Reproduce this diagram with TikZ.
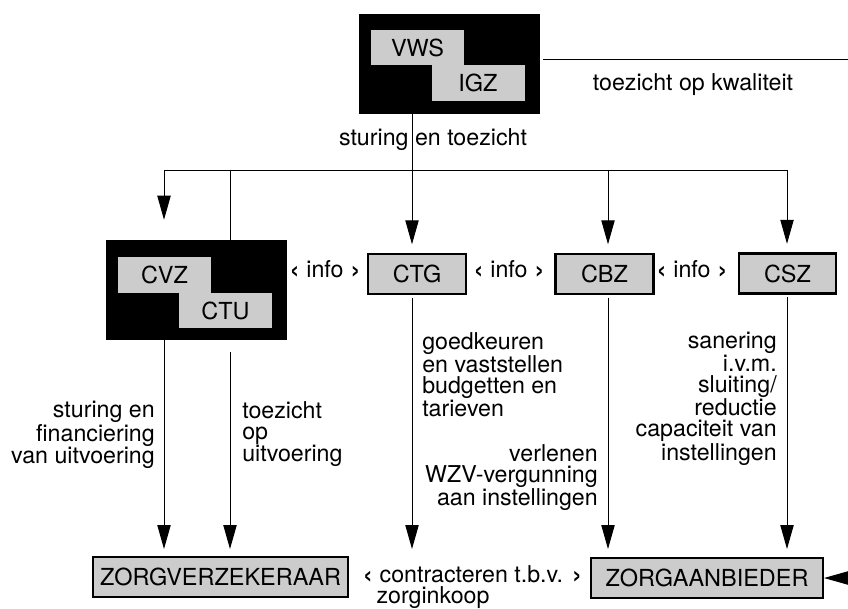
\documentclass[tikz,border=0pt]{standalone}
\usepackage{fontspec}
\usepackage{graphicx}
\setmainfont{TeX Gyre Heros}
\usetikzlibrary{arrows.meta}

\newcommand{\lgl}{\raisebox{-0.14em}{\scalebox{1.4}{‹}}}
\newcommand{\rgl}{\raisebox{-0.14em}{\scalebox{1.4}{›}}}

\tikzset{
  blok/.style={rectangle, fill=black, inner sep=0pt, minimum width=135.75pt, minimum height=75pt},
  naam/.style={rectangle, fill=black!20, inner sep=0pt, minimum width=69.75pt, minimum height=26.5pt, font=\fontsize{17.6}{18}\selectfont},
  orgaan/.style={rectangle, draw, line width=1.6pt, fill=black!20, inner sep=0pt, minimum height=30pt, font=\fontsize{17.6}{18}\selectfont},
  tekst/.style={inner sep=0pt, font=\fontsize{17.4}{15.75}\selectfont},
  lijn/.style={line width=0.75pt},
  pijl/.style={lijn, -{Triangle[length=18pt,width=10pt]}}
}

\begin{document}
\begin{tikzpicture}[x=0.75pt,y=-0.75pt]
		\useasboundingbox (0,0) rectangle (848,608);
		
		% ministerie
		\node[blok] (vws) at (449.5,64) {};
		\node[naam] (vwsnaam) at (417.5,47.5) {VWS};
		\node[naam] (igz) at (478,83) {IGZ};
		\coordinate (kwaliteit) at (848,59);
		\draw[lijn] (vws.east |- kwaliteit) ++(3,0) -- (kwaliteit);
		\node[tekst, anchor=base] (tkw) at (693,90) {toezicht op kwaliteit};
		
		% sturing en toezicht
		\coordinate (split) at (412,170);
		\coordinate (naarcvz) at (164,170);
		\coordinate (naarctu) at (230,170);
		\coordinate (naarcbz) at (608,170);
		\coordinate (naarcsz) at (787,170);
		\draw[lijn] (vws.south -| split) -- (split);
		\node[tekst, anchor=base] (sturing) at (433,145) {sturing en toezicht};
		\draw[lijn] (naarcvz) -- (naarcsz);
		
		% colleges
		\node[blok] (cvz) at (196.5,290) {};
		\node[naam] (cvznaam) at (164.5,275) {CVZ};
		\node[naam] (ctu) at (225.5,310.5) {CTU};
		\node[orgaan, minimum width=73.5pt] (ctg) at (417,274) {CTG};
		\node[orgaan, minimum width=73.5pt] (cbz) at (604.5,274) {CBZ};
		\node[orgaan, minimum width=73pt] (csz) at (787.5,273.5) {CSZ};
		\node[tekst, anchor=base] (info1) at (325,277) {\lgl{} info \rgl};
		\node[tekst, anchor=base] (info2) at (509,277) {\lgl{} info \rgl};
		\node[tekst, anchor=base] (info3) at (692,277) {\lgl{} info \rgl};
		
		\draw[pijl, shorten >=15pt] (naarcvz) -- (naarcvz |- cvz.north);
		\draw[lijn] (naarctu) -- (naarctu |- cvz.north);
		\draw[pijl, shorten >=6.5pt] (split) -- (split |- ctg.north);
		\draw[pijl, shorten >=6.5pt] (naarcbz) -- (naarcbz |- cbz.north);
		\draw[pijl, shorten >=6.5pt] (naarcsz) -- (naarcsz |- csz.north);
		
		% naar zorgverzekeraar en zorgaanbieder
		\coordinate (onder) at (0,549);
		\coordinate (ctuonder) at (230,352);
		\draw[pijl] (cvz.south -| naarcvz) -- (naarcvz |- onder);
		\draw[pijl] (ctuonder) -- (naarctu |- onder);
		\draw[pijl, shorten <=2pt] (ctg.south -| split) -- (split |- onder);
		\draw[pijl, shorten <=2pt] (cbz.south -| naarcbz) -- (naarcbz |- onder);
		\draw[pijl, shorten <=2pt] (csz.south -| naarcsz) -- (naarcsz |- onder);
		
		\node[tekst, anchor=north east, align=right] (financiering) at (155,401) {sturing en\\financiering\\van uitvoering};
		\node[tekst, anchor=north west, align=left] (uitvoering) at (242,401) {toezicht\\op\\uitvoering};
		\node[tekst, anchor=north west, align=left] (budget) at (422,332) {goedkeuren\\en vaststellen\\budgetten en\\tarieven};
		\node[tekst, anchor=north east, align=right] (wzv) at (598,444) {verlenen\\WZV-vergunning\\aan instellingen};
		\node[tekst, anchor=north east, align=right] (sanering) at (777,332) {sanering\\i.v.m.\\sluiting/\\reductie\\capaciteit van\\instellingen};
		
		\node[orgaan, minimum width=191.25pt] (zv) at (220.5,577) {ZORGVERZEKERAAR};
		\node[orgaan, minimum width=174pt] (za) at (707,578) {ZORGAANBIEDER};
		\node[tekst, anchor=base] (contract) at (472.5,582) {\lgl{} contracteren t.b.v. \rgl};
		\node[tekst, anchor=base] (inkoop) at (433,603) {zorginkoop};
		\coordinate (toezichtin) at (848,578);
		\draw[pijl] (toezichtin) -- (za.east);
		
\end{tikzpicture}
\end{document}
